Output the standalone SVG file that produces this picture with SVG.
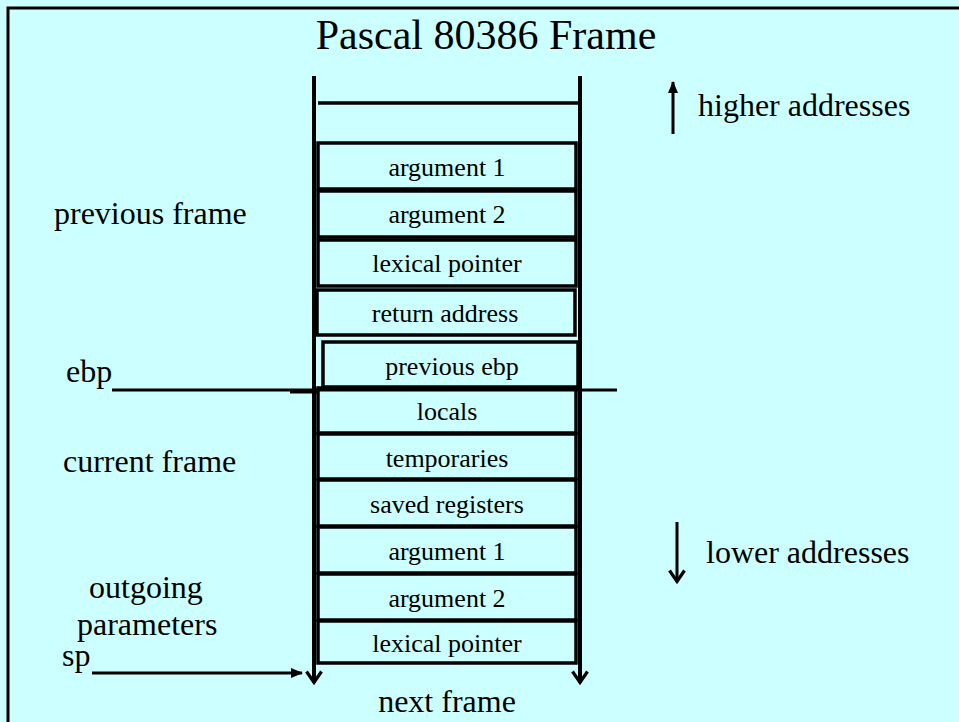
<svg xmlns="http://www.w3.org/2000/svg" width="959" height="722" viewBox="0 0 959 722">
  <style>
    .t { font-family: "Liberation Serif", "Times New Roman", serif; fill: #000; }
    .cell { fill: none; stroke: #000; stroke-width: 3.5; }
    .cl { font-size: 26px; text-anchor: middle; }
    .lbl { font-size: 32px; }
    .ln { stroke: #000; fill: none; }
  </style>
  <defs>
    <marker id="open" viewBox="0 0 18 18" refX="15.5" refY="9" markerWidth="18" markerHeight="18" markerUnits="userSpaceOnUse" orient="auto">
      <path d="M4,1.5 L15,9 L4,16.5" fill="none" stroke="#000" stroke-width="3.2"/>
    </marker>
    <marker id="solid" viewBox="0 0 12 10" refX="11" refY="5" markerWidth="12" markerHeight="10" markerUnits="userSpaceOnUse" orient="auto">
      <path d="M0,0 L12,5 L0,10 Z" fill="#000"/>
    </marker>
  </defs>

  <!-- page -->
  <rect x="0" y="0" width="959" height="722" fill="#ccffff"/>
  <path d="M8,722 V8 H959" class="ln" stroke-width="3"/>

  <text class="t" x="486" y="49" font-size="42" text-anchor="middle">Pascal 80386 Frame</text>

  <!-- stack rails -->
  <g id="rails">
    <line class="ln" x1="314" y1="76" x2="314" y2="683" stroke-width="4" marker-end="url(#open)"/>
    <line class="ln" x1="580" y1="76" x2="580" y2="683" stroke-width="4" marker-end="url(#open)"/>
    <line class="ln" x1="318" y1="103" x2="578" y2="103" stroke-width="3.5"/>
  </g>

  <!-- previous frame cells -->
  <g id="prev-arg1"><rect class="cell" x="318" y="143" width="258" height="46"/><text class="t cl" x="447" y="176">argument 1</text></g>
  <g id="prev-arg2"><rect class="cell" x="318" y="191" width="258" height="46"/><text class="t cl" x="447" y="223">argument 2</text></g>
  <g id="prev-lex"><rect class="cell" x="318" y="240" width="258" height="46"/><text class="t cl" x="447" y="272">lexical pointer</text></g>
  <g id="ret-addr"><rect class="cell" x="317" y="290" width="258" height="45"/><text class="t cl" x="445" y="322">return address</text></g>
  <g id="prev-ebp"><rect class="cell" x="323" y="342" width="255" height="45"/><text class="t cl" x="452" y="375">previous  ebp</text></g>

  <!-- current frame cells -->
  <g id="locals"><rect class="cell" x="318" y="388" width="258" height="45"/><text class="t cl" x="447" y="420">locals</text></g>
  <g id="temps"><rect class="cell" x="318" y="434" width="258" height="45"/><text class="t cl" x="447" y="467">temporaries</text></g>
  <g id="saved-regs"><rect class="cell" x="318" y="480" width="258" height="46"/><text class="t cl" x="447" y="513">saved registers</text></g>
  <g id="out-arg1"><rect class="cell" x="318" y="527" width="258" height="46"/><text class="t cl" x="447" y="560">argument 1</text></g>
  <g id="out-arg2"><rect class="cell" x="318" y="574" width="258" height="46"/><text class="t cl" x="447" y="607">argument 2</text></g>
  <g id="out-lex"><rect class="cell" x="318" y="621" width="258" height="42"/><text class="t cl" x="447" y="652">lexical pointer</text></g>

  <!-- side labels -->
  <g id="labels">
    <text class="t lbl" x="54" y="224">previous frame</text>
    <text class="t lbl" x="66" y="382">ebp</text>
    <text class="t lbl" x="63" y="472">current frame</text>
    <text class="t lbl" x="89" y="598">outgoing</text>
    <text class="t lbl" x="77" y="635">parameters</text>
    <text class="t lbl" x="62" y="666">sp</text>
    <text class="t lbl" x="447" y="712" text-anchor="middle">next frame</text>
    <text class="t lbl" x="698" y="116">higher addresses</text>
    <text class="t lbl" x="706" y="563">lower addresses</text>
  </g>

  <!-- pointers and direction arrows -->
  <g id="connectors">
    <line class="ln" x1="112" y1="390" x2="617" y2="390" stroke-width="3"/>
    <line class="ln" x1="290" y1="392" x2="318" y2="392" stroke-width="3"/>
    <line class="ln" x1="92" y1="673" x2="302" y2="673" stroke-width="3" marker-end="url(#solid)"/>
    <line class="ln" x1="673" y1="134" x2="673" y2="82" stroke-width="3" marker-end="url(#solid)"/>
    <line class="ln" x1="677" y1="522" x2="677" y2="582" stroke-width="3" marker-end="url(#open)"/>
  </g>
</svg>
